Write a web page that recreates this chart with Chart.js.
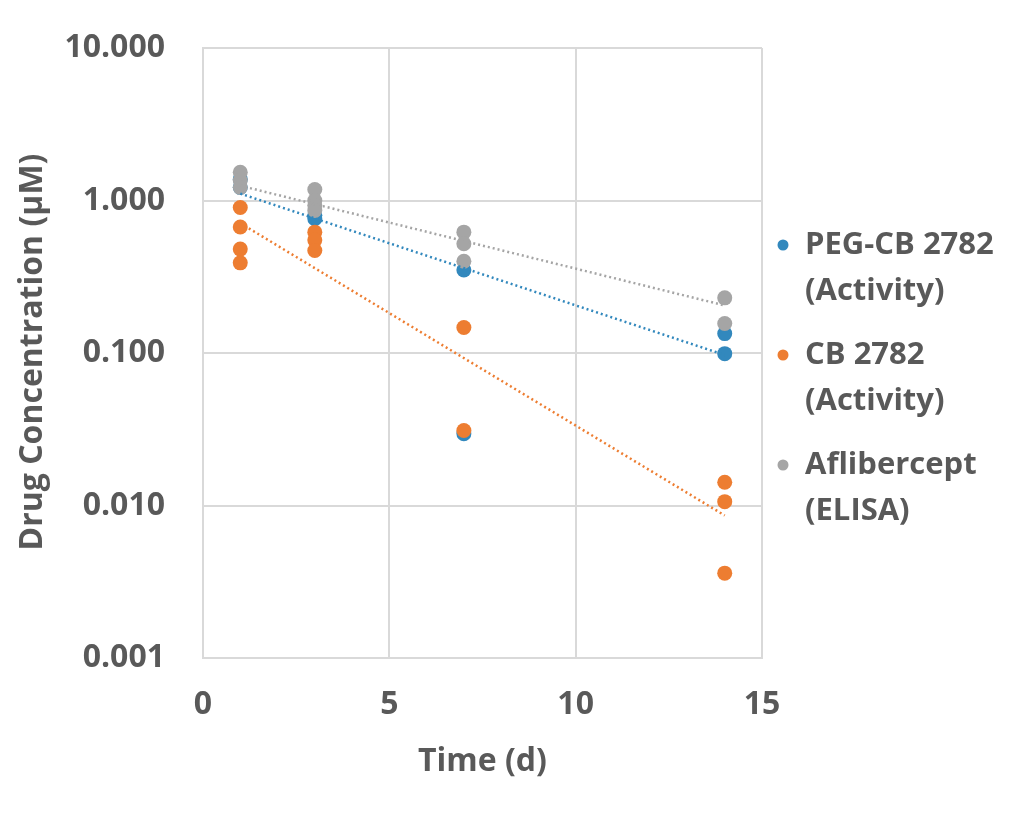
<!DOCTYPE html>
<html>
<head>
<meta charset="utf-8">
<script src="https://cdn.jsdelivr.net/npm/chart.js@4"></script>
<style>
  html, body { margin: 0; padding: 0; background: #fff; }
</style>
</head>
<body>
<canvas id="pk" width="1022" height="819"></canvas>
<script>
// values (days, µM)
const pegDays = [1, 1, 3, 3, 7, 7, 14, 14];
const pegConc = [1.38, 1.22, 0.80, 0.76, 0.35, 0.0296, 0.134, 0.099];

const cbDays = [1, 1, 1, 1, 3, 3, 3, 7, 7, 14, 14, 14];
const cbConc = [0.90, 0.67, 0.48, 0.39, 0.62, 0.55, 0.47, 0.147, 0.031, 0.0142, 0.0106, 0.0036];

const aflDays = [1, 1, 1, 3, 3, 3, 3, 7, 7, 7, 14, 14];
const aflConc = [1.53, 1.35, 1.22, 1.18, 1.0, 0.93, 0.86, 0.62, 0.52, 0.40, 0.23, 0.156];

// trendline end points
const trendDays = [1, 14];
const pegTrend = [1.11, 0.097];
const cbTrend = [0.71, 0.0086];
const aflTrend = [1.25, 0.205];

const yTicks = [0.001, 0.01, 0.1, 1, 10];
const yTitle = 'Drug Concentration (µM)';

const legendItems = [
  { color: '#3288bd', lines: ['PEG-CB 2782', '(Activity)'] },
  { color: '#ed7d31', lines: ['CB 2782', '(Activity)'] },
  { color: '#a5a5a5', lines: ['Aflibercept', '(ELISA)'] }
];

const textColor = '#595959';
const gridColor = '#d9d9d9';
const fontFamily = '"Open Sans", Lato, sans-serif';

function toPoints(xs, ys) {
  return xs.map((x, i) => ({ x: x, y: ys[i] }));
}

function pointSet(label, xs, ys, color, order) {
  return {
    label: label,
    data: toPoints(xs, ys),
    backgroundColor: color,
    borderColor: color,
    pointRadius: 7.5,
    pointHoverRadius: 7.5,
    borderWidth: 0,
    showLine: false,
    order: order
  };
}

function trendSet(xs, ys, color) {
  return {
    data: toPoints(xs, ys),
    borderColor: color,
    borderWidth: 2.5,
    borderDash: [2, 3],
    pointRadius: 0,
    showLine: true,
    fill: false,
    order: 0
  };
}

/** Draws the two-line legend entries to the right of the plot and the rotated y title */
const sideText = {
  id: 'sideText',
  afterDraw(chart) {
    const ctx = chart.ctx;
    const area = chart.chartArea;
    const x = area.right + 21;
    let y = 245;
    ctx.save();
    ctx.font = 'bold 31px ' + fontFamily;
    ctx.textBaseline = 'middle';
    legendItems.forEach(item => {
      ctx.fillStyle = item.color;
      ctx.beginPath();
      ctx.arc(x, y, 5.5, 0, Math.PI * 2);
      ctx.fill();
      ctx.fillStyle = textColor;
      item.lines.forEach((line, i) => {
        ctx.fillText(line, x + 22, y + i * 46);
      });
      y += 110;
    });
    ctx.restore();

    ctx.save();
    ctx.translate(33, (area.top + area.bottom) / 2 - 1);
    ctx.rotate(-Math.PI / 2);
    ctx.font = 'bold 32px ' + fontFamily;
    ctx.fillStyle = textColor;
    ctx.textAlign = 'center';
    ctx.textBaseline = 'middle';
    ctx.fillText(yTitle, 0, 0);
    ctx.restore();
  }
};

const ctx = document.getElementById('pk').getContext('2d');
new Chart(ctx, {
  type: 'scatter',
  data: {
    datasets: [
      pointSet('PEG-CB 2782 (Activity)', pegDays, pegConc, '#3288bd', 3),
      pointSet('CB 2782 (Activity)', cbDays, cbConc, '#ed7d31', 2),
      pointSet('Aflibercept (ELISA)', aflDays, aflConc, '#a5a5a5', 1),
      trendSet(trendDays, pegTrend, '#3288bd'),
      trendSet(trendDays, cbTrend, '#ed7d31'),
      trendSet(trendDays, aflTrend, '#a5a5a5')
    ]
  },
  options: {
    responsive: false,
    animation: false,
    layout: { padding: { left: 0, top: 48, right: 260, bottom: 0 } },
    plugins: {
      legend: { display: false },
      tooltip: { enabled: false }
    },
    scales: {
      x: {
        type: 'linear',
        min: 0,
        max: 15,
        afterFit: axis => { axis.height = 161; },
        ticks: {
          stepSize: 5,
          color: textColor,
          font: { family: fontFamily, size: 32, weight: 'bold' },
          padding: 28
        },
        grid: { color: gridColor, lineWidth: 2, drawTicks: false },
        border: { color: gridColor, width: 2 },
        title: {
          display: true,
          text: 'Time (d)',
          color: textColor,
          font: { family: fontFamily, size: 32, weight: 'bold' },
          padding: { top: 0, bottom: 38 }
        }
      },
      y: {
        type: 'logarithmic',
        min: 0.001,
        max: 10,
        afterFit: axis => {
          axis.width = 203;
          axis.paddingTop = 0;
          axis.paddingBottom = 0;
        },
        afterBuildTicks: axis => {
          axis.ticks = yTicks.map(v => ({ value: v }));
        },
        ticks: {
          color: textColor,
          font: { family: fontFamily, size: 32, weight: 'bold' },
          padding: 38,
          callback: v => Number(v).toFixed(3)
        },
        grid: { color: gridColor, lineWidth: 2, drawTicks: false },
        border: { color: gridColor, width: 2 },
        title: { display: false }
      }
    }
  },
  plugins: [sideText]
});
</script>
</body>
</html>
